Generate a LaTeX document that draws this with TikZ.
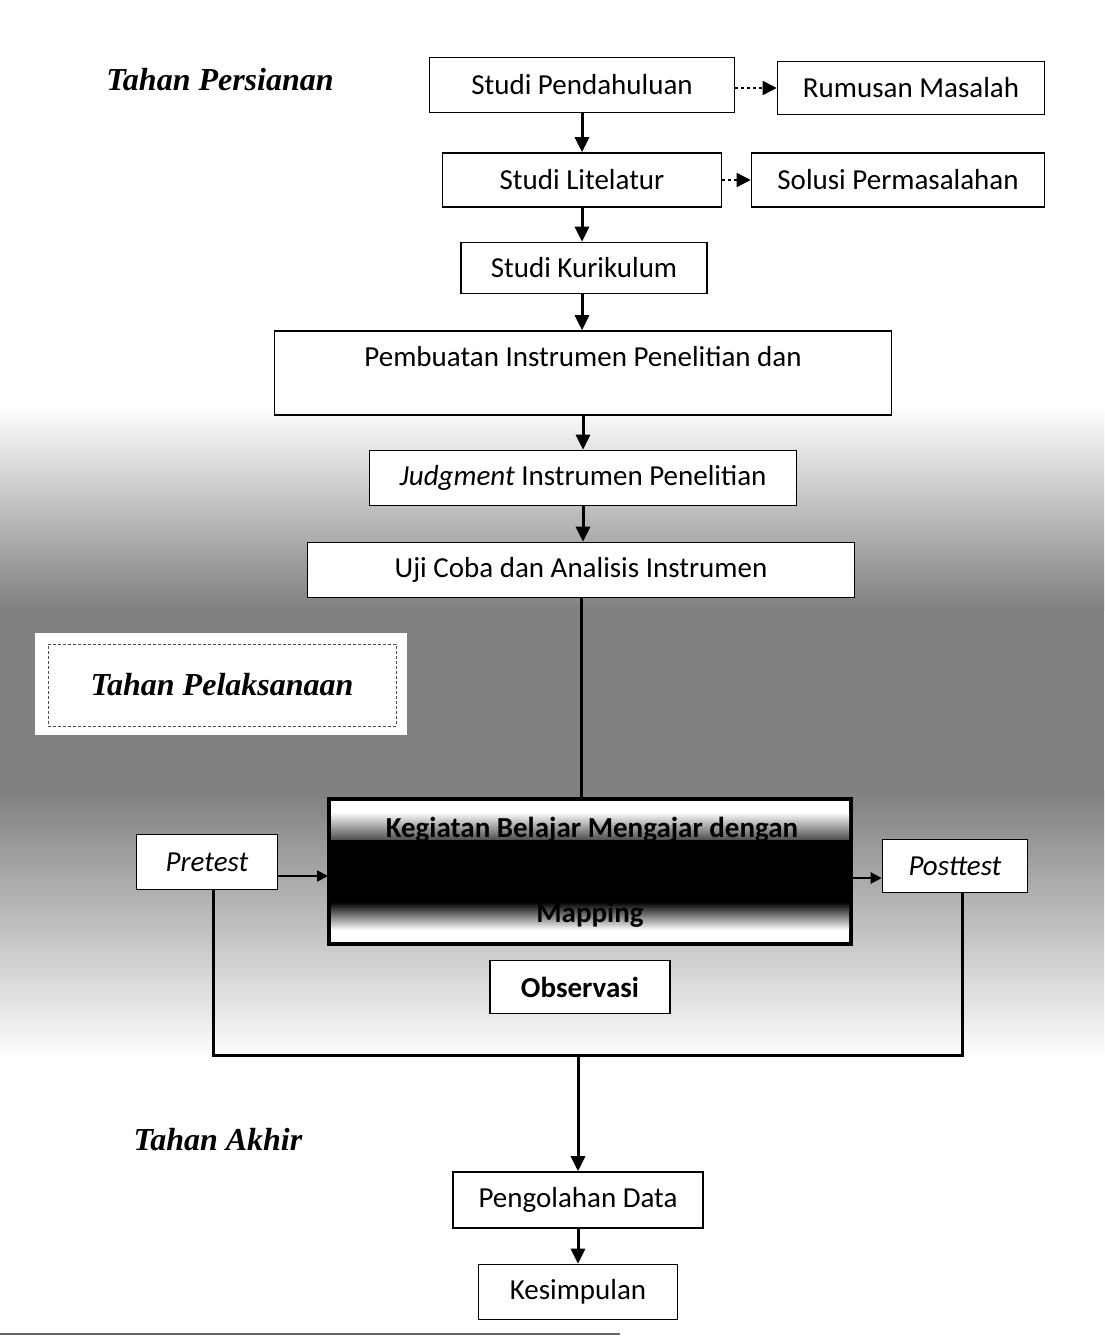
\documentclass[tikz,border=0pt]{standalone}
\usepackage{fontspec}
\setmainfont{Carlito}
\newfontfamily\hdrfont{Liberation Serif}
\usetikzlibrary{arrows.meta,calc}
\begin{document}
\begin{tikzpicture}[x=1pt,y=-1pt,
  box/.style={draw, line width=1.6pt, fill=white, inner sep=0pt, font=\fontsize{29}{33}\selectfont},
  hdr/.style={font=\hdrfont\bfseries\itshape\fontsize{32}{36}\selectfont, inner sep=0pt},
  arr/.style={line width=3pt, -{Triangle[width=14pt,length=15pt]}},
  harr/.style={line width=2.2pt, -{Triangle[width=11pt,length=11pt]}},
  darr/.style={line width=1.6pt, dash pattern=on 3pt off 3pt, -{Triangle[width=14pt,length=14pt]}},
  link/.style={line width=3pt},
]
\useasboundingbox (0,0) rectangle (1104,1337);
% background and scan shading
\fill[white] (0,0) rectangle (1104,1337);
\shade[top color=white,bottom color=black!50] (0,405) rectangle (1104,610);
\fill[black!50] (0,610) rectangle (1104,790);
\shade[top color=black!50,bottom color=white] (0,790) rectangle (1104,1060);
\draw[black!60, line width=2pt] (0,1334) -- (620,1334);

% stage headers
\node[hdr] (h1) at (220,80) {Tahan Persianan};
\node[fill=white, minimum width=372pt, minimum height=102pt, inner sep=0pt] (tpbg) at (221,684) {};
\node[hdr, draw=black!70, densely dashed, line width=0.8pt, minimum width=348pt, minimum height=82pt] (h2) at (222,685) {Tahan Pelaksanaan};
\node[hdr] (h3) at (218,1140) {Tahan Akhir};

% boxes
\node[box, minimum width=305pt, minimum height=55pt] (sp) at (582,85) {Studi Pendahuluan};
\node[box, minimum width=267pt, minimum height=53pt] (rm) at (911,88) {Rumusan Masalah};
\node[box, minimum width=279pt, minimum height=54pt] (sl) at (582,180) {Studi Litelatur};
\node[box, minimum width=293pt, minimum height=54pt] (so) at (898,180) {Solusi Permasalahan};
\node[box, minimum width=246pt, minimum height=51pt] (sk) at (584,268) {Studi Kurikulum};
\node[box, minimum width=617pt, minimum height=84pt, align=center] (pi) at (583,373) {Pembuatan Instrumen Penelitian dan\\\mbox{}};
\node[box, minimum width=427pt, minimum height=55pt] (jd) at (583,478) {\textit{Judgment} Instrumen Penelitian};
\node[box, minimum width=547pt, minimum height=55pt] (uc) at (581,570) {Uji Coba dan Analisis Instrumen};

% main activity box
\node[draw, line width=4pt, fill=white, minimum width=522pt, minimum height=145pt, inner sep=0pt] (kbm) at (590,871) {};
\shade[top color=white, bottom color=black!70] (331,812) rectangle (849,840);
\fill[black] (331,840) rectangle (849,902);
\shade[top color=black, bottom color=white] (331,902) rectangle (849,930);
\node[font=\bfseries\fontsize{29}{33}\selectfont, text=black, inner sep=0pt] (kbmt) at (592,830) {Kegiatan Belajar Mengajar dengan};
\node[font=\bfseries\fontsize{29}{33}\selectfont, text=black, inner sep=0pt] (kbmb) at (590,915) {Mapping};

\node[box, minimum width=141pt, minimum height=55pt] (pre) at (207,862) {\textit{Pretest}};
\node[box, minimum width=145pt, minimum height=53pt] (post) at (955,866) {\textit{Posttest}};
\node[box, minimum width=180pt, minimum height=53pt, font=\bfseries\fontsize{29}{33}\selectfont] (obs) at (580,987) {Observasi};
\node[box, minimum width=250pt, minimum height=56pt] (pd) at (578,1200) {Pengolahan Data};
\node[box, minimum width=199pt, minimum height=55pt] (ks) at (578,1292) {Kesimpulan};

% dashed side arrows
\draw[darr] (sp.east |- rm.west) -- (rm.west);
\draw[darr] (sl.east) -- (so.west);

% vertical flow
\draw[arr] (sp.south) -- (sp.south |- sl.north);
\draw[arr] (sl.south) -- (sl.south |- sk.north);
\draw[arr] (sk.south -| sl.south) -- (sl.south |- pi.north);
\draw[arr] (pi.south) -- (pi.south |- jd.north);
\draw[arr] (jd.south) -- (jd.south |- uc.north);
\draw[link] (uc.south) -- (uc.south |- kbm.north);

% pretest / posttest
\coordinate (pin) at (328,876);
\coordinate (pout) at (852,878);
\draw[harr] (pre.east |- pin) -- (pin);
\draw[harr] (pout) -- (post.west |- pout);

% collecting lines
\coordinate (pl) at (213,1055);
\coordinate (pr) at (962,1055);
\coordinate (jn) at (578,1055);
\draw[link] (pre.south -| pl) -- (pl) -- (pr) -- (post.south -| pr);
\draw[arr] (jn) -- (pd.north);
\draw[arr] (pd.south) -- (ks.north);
\end{tikzpicture}
\end{document}
